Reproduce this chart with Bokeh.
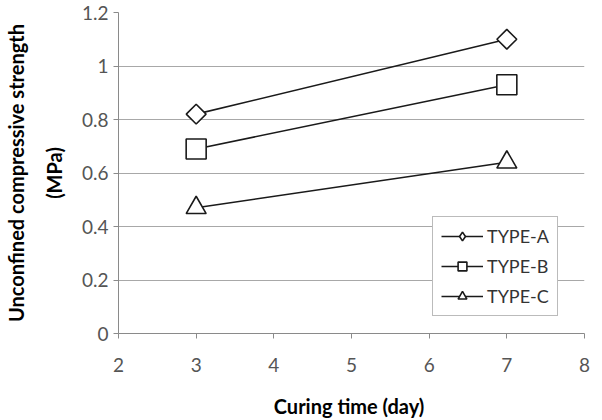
import math
from bokeh.plotting import figure
from bokeh.models import FixedTicker, CustomJSTickFormatter, Legend, LegendItem, Range1d, Title
from bokeh.embed import file_html
from bokeh.resources import INLINE

# Curing time (days) and unconfined compressive strength (MPa)
curing_days = [3, 7]
type_a = [0.82, 1.10]
type_b = [0.69, 0.93]
type_c = [0.47, 0.64]
x_ticks = [2, 3, 4, 5, 6, 7, 8]
y_ticks = [0, 0.2, 0.4, 0.6, 0.8, 1.0, 1.2]

FONT = "Lato"
INK = "#1a1a1a"

p = figure(width=602, height=420, output_backend="svg", toolbar_location=None,
           x_range=Range1d(2, 8), y_range=Range1d(0, 1.2),
           min_border_left=118, min_border_right=18, min_border_top=12, min_border_bottom=86)
p.outline_line_color = None
p.background_fill_color = "white"

p.xaxis.ticker = FixedTicker(ticks=x_ticks)
p.yaxis.ticker = FixedTicker(ticks=y_ticks)
p.yaxis.formatter = CustomJSTickFormatter(code="return tick.toFixed(1).replace(/\\.0$/, '');")

p.xgrid.grid_line_color = None
p.ygrid.ticker = FixedTicker(ticks=y_ticks)
p.ygrid.grid_line_color = "#a8a8a8"
p.ygrid.grid_line_width = 1.2
p.ygrid.grid_line_alpha = 1

for ax in (p.xaxis[0], p.yaxis[0]):
    ax.axis_line_color = "#8a8a8a"
    ax.major_tick_line_color = "#8a8a8a"
    ax.major_tick_out = 5
    ax.major_tick_in = 0
    ax.minor_tick_line_color = None
    ax.major_label_text_font = FONT
    ax.major_label_text_font_size = "19px"
    ax.major_label_text_color = "#555555"
    ax.axis_label_text_font = FONT
    ax.axis_label_text_font_size = "20px"
    ax.axis_label_text_font_style = "bold"
    ax.axis_label_text_color = "black"

p.xaxis.major_label_standoff = 19
p.xaxis.axis_label = "Curing time  (day)"
p.xaxis.axis_label_standoff = 19
p.yaxis.major_label_standoff = 5

# two-line y-axis title, each line its own vertical title
for text, standoff in (("(MPa)", 25), ("Unconfined compressive strength", 0)):
    t = Title(text=text, align="center", text_font=FONT, text_font_size="20px",
              text_font_style="bold", text_color="black", standoff=standoff, offset=0)
    p.add_layout(t, "left")

line_kw = dict(line_color=INK, line_width=1.6)
mk_kw = dict(line_color=INK, line_width=1.6, fill_color="white")

la = p.line(curing_days, type_a, **line_kw)
# small diamond under each rotated square: it supplies the legend swatch
ka = p.scatter(curing_days, type_a, marker="diamond", size=14, **mk_kw)
sa = p.scatter(curing_days, type_a, marker="square", angle=math.pi / 4, size=14, **mk_kw)
lb = p.line(curing_days, type_b, **line_kw)
sb = p.scatter(curing_days, type_b, marker="square", size=20, **mk_kw)
lc = p.line(curing_days, type_c, **line_kw)
sc = p.scatter(curing_days, type_c, marker="triangle", size=20, **mk_kw)

legend = Legend(items=[
    LegendItem(label="TYPE-A", renderers=[la, ka]),
    LegendItem(label="TYPE-B", renderers=[lb, sb]),
    LegendItem(label="TYPE-C", renderers=[lc, sc]),
], location=(314, 17))
legend.label_text_font = FONT
legend.label_text_font_size = "18px"
legend.label_text_color = "#333333"
legend.border_line_color = "#777777"
legend.border_line_width = 1
legend.background_fill_alpha = 1
legend.glyph_width = 42
legend.glyph_height = 22
legend.spacing = 8
legend.padding = 8
legend.margin = 0
legend.label_standoff = 4
p.add_layout(legend, "center")

open("out.html", "w").write(file_html(p, INLINE))
